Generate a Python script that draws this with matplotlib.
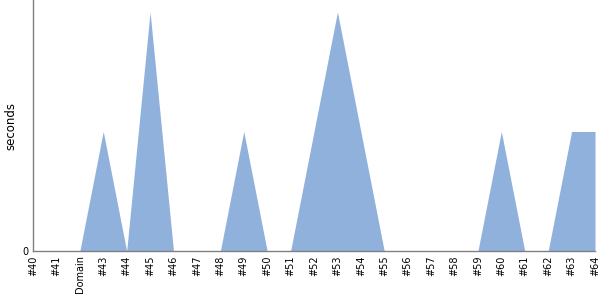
import matplotlib
matplotlib.use("Agg")
import matplotlib.pyplot as plt
import numpy as np

categories = ["#40", "#41", "Domain", "#43", "#44", "#45", "#46", "#47", "#48", "#49",
              "#50", "#51", "#52", "#53", "#54", "#55", "#56", "#57", "#58", "#59",
              "#60", "#61", "#62", "#63", "#64"]
seconds = [0, 0, 0, 1, 0, 2, 0, 0, 0, 1,
           0, 0, 1, 2, 1, 0, 0, 0, 0, 0,
           1, 0, 0, 1, 1]

fig = plt.figure(figsize=(6, 3), dpi=100)
ax = fig.add_axes([33/600, 1 - 251/300, (595-33)/600, 251/300])
x = np.arange(len(categories))
ax.fill_between(x, seconds, 0, color="#8fb1dc", linewidth=0)
ax.set_xlim(0, len(categories) - 1)
ax.set_ylim(0, 2.1)
ax.set_xticks(x)
ax.set_xticklabels(categories, rotation=90, fontsize=7)
ax.set_yticks([0])
ax.set_yticklabels(["0"], fontsize=7)
ax.tick_params(length=0, pad=3)
ax.set_ylabel("seconds", fontsize=8.5, va="center")
ax.yaxis.set_label_coords((11 - 33) / 562, 0.5)
for s in ["top", "right"]:
    ax.spines[s].set_visible(False)
for s in ["left", "bottom"]:
    ax.spines[s].set_color("#808080")
    ax.spines[s].set_linewidth(1)
fig.savefig("out.png", dpi=100)
